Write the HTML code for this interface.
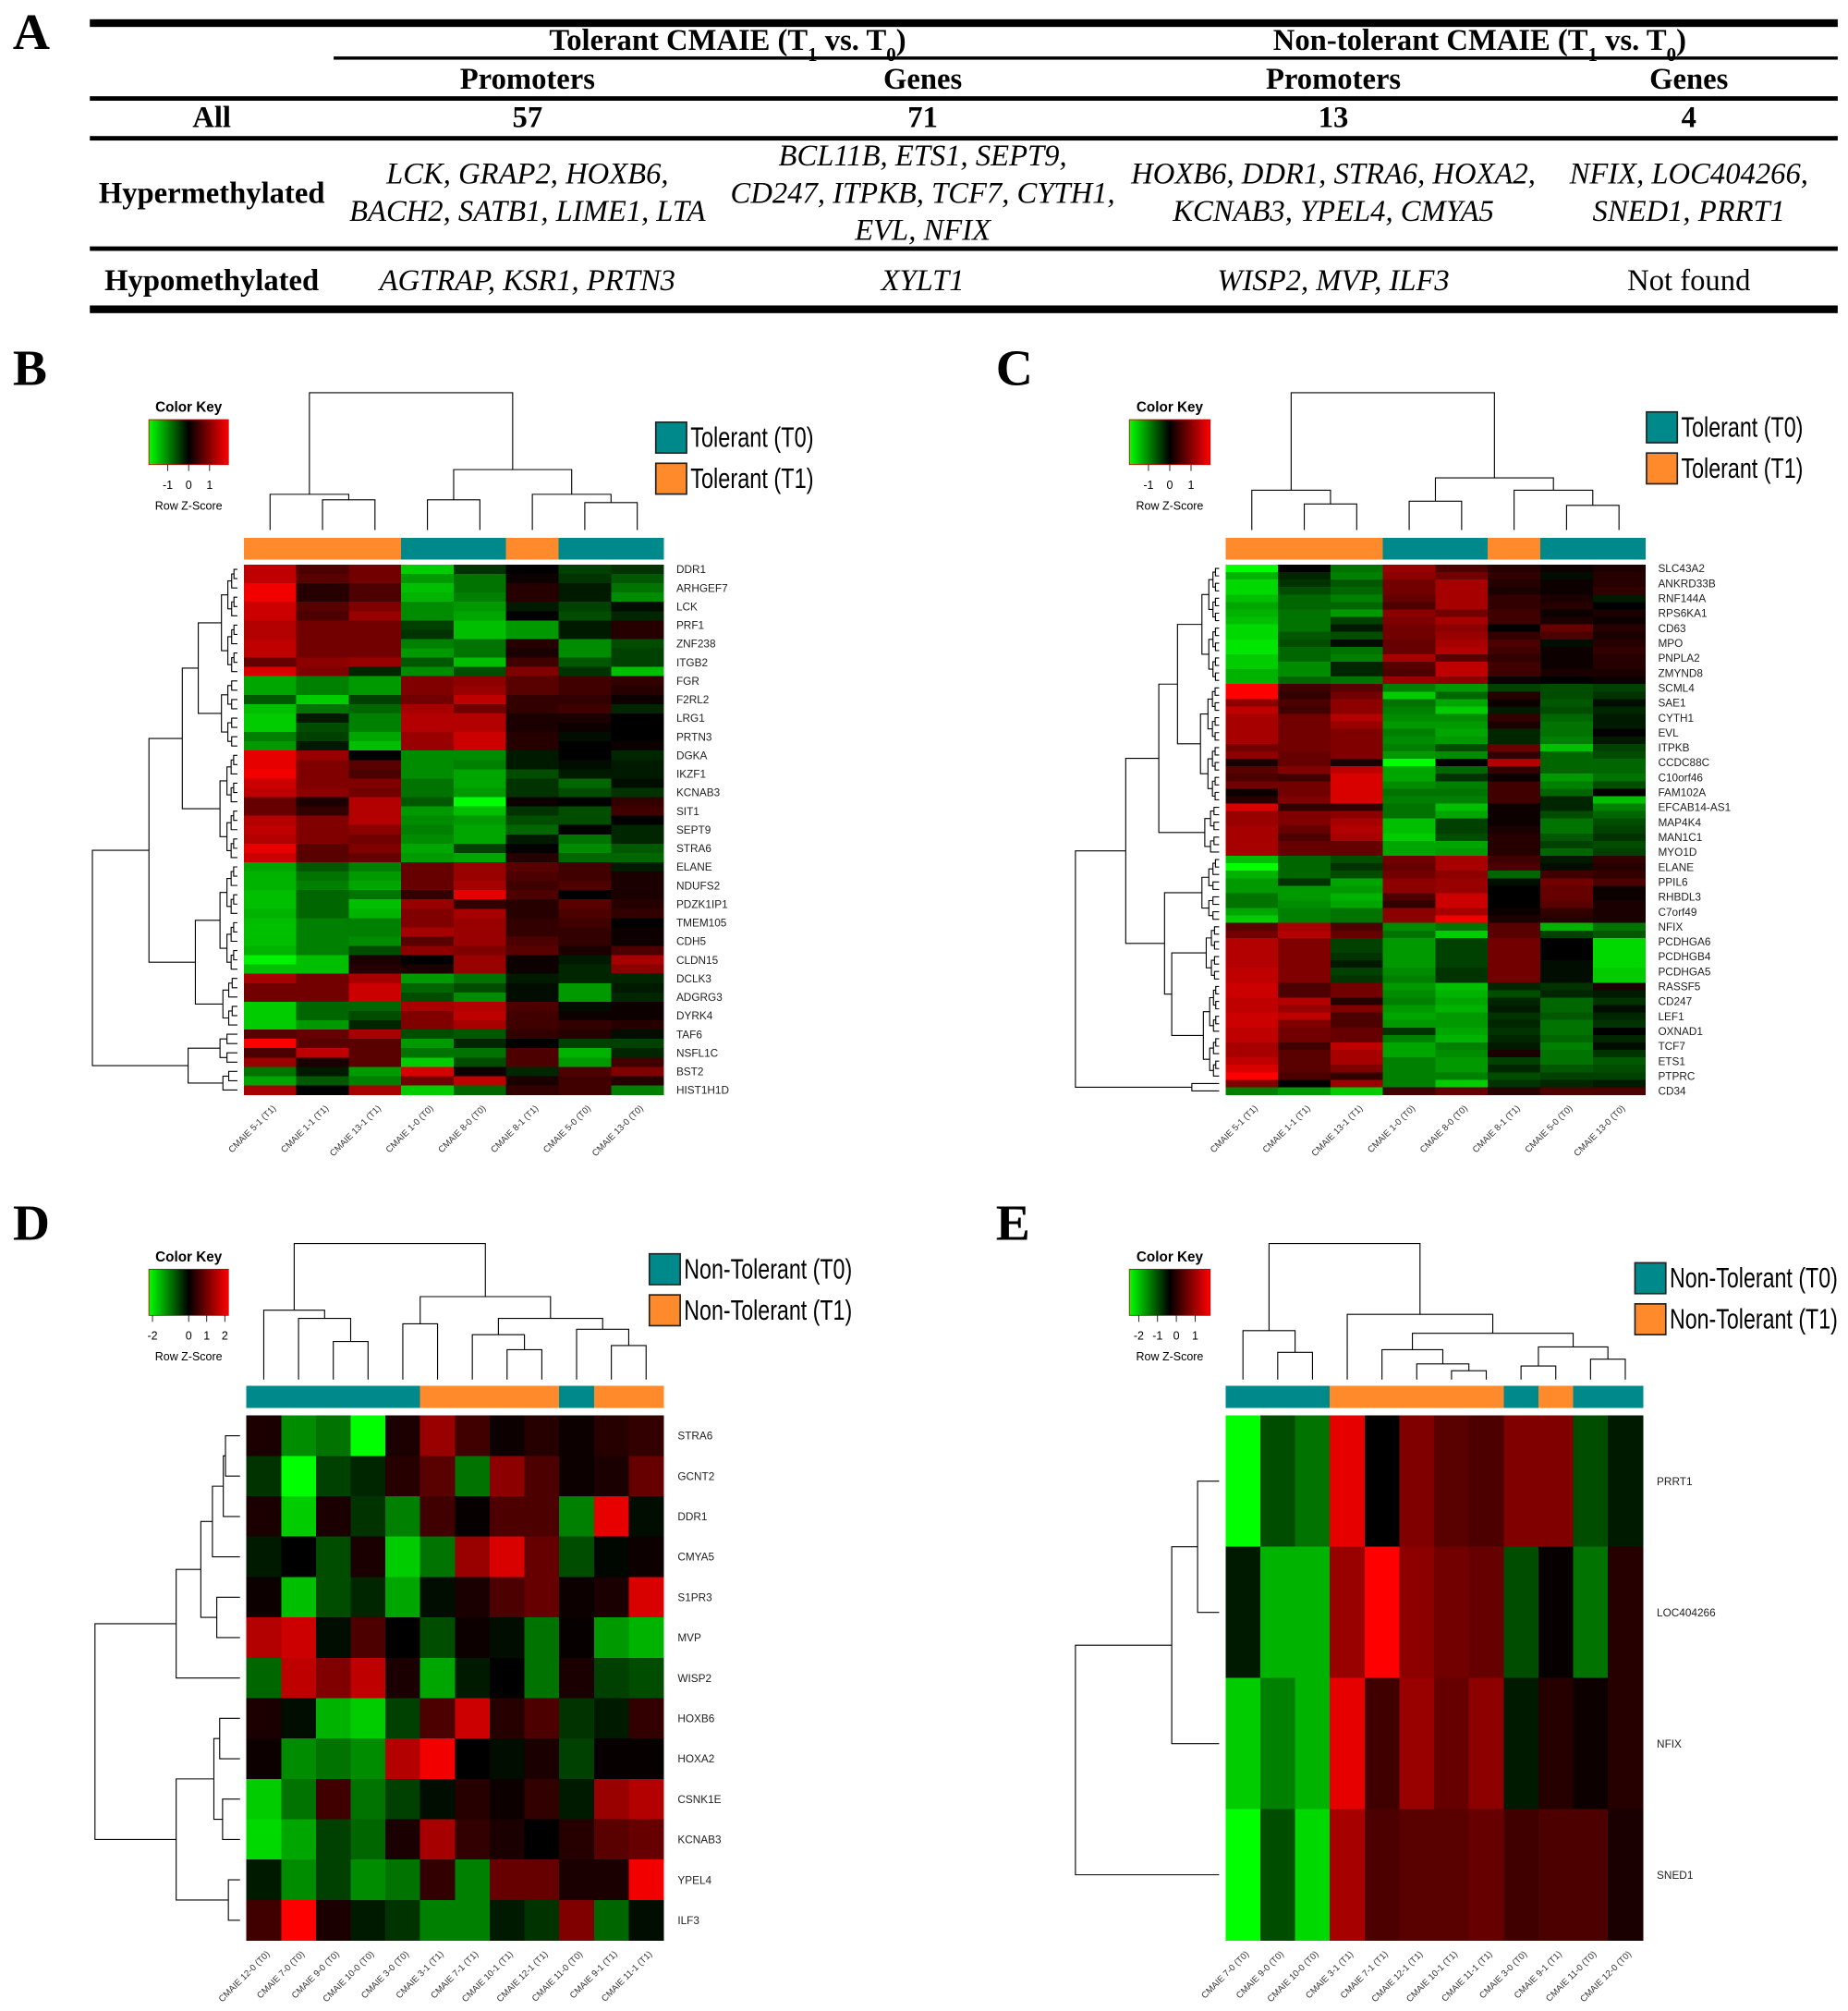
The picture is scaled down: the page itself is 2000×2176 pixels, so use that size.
<!DOCTYPE html>
<html><head><meta charset="utf-8"><style>
html,body{margin:0;padding:0;background:#fff;}
svg{display:block;}
.tb{font-family:"Liberation Serif",serif;font-size:23.5px;fill:#000;}
.b{font-weight:bold;}
.i{font-style:italic;}
.sans{font-family:"Liberation Sans",sans-serif;}
</style></head><body>
<svg id="fig" xmlns="http://www.w3.org/2000/svg" width="2000" height="2176" viewBox="0 0 1440 1567" preserveAspectRatio="none">
<rect x="0" y="0" width="1440" height="1567" fill="#fff"/>
<g>
<text x="10" y="38" class="tb b" style="font-size:40px">A</text>
<rect x="70" y="15" width="1362" height="6" fill="#000"/>
<text x="567" y="39" text-anchor="middle" class="tb b">Tolerant CMAIE (T<tspan baseline-shift="sub" font-size="15">1</tspan> vs. T<tspan baseline-shift="sub" font-size="15">0</tspan>)</text>
<text x="1153" y="39" text-anchor="middle" class="tb b">Non-tolerant CMAIE (T<tspan baseline-shift="sub" font-size="15">1</tspan> vs. T<tspan baseline-shift="sub" font-size="15">0</tspan>)</text>
<rect x="260" y="44" width="1172" height="2.5" fill="#000"/>
<text x="411" y="69" text-anchor="middle" class="tb b">Promoters</text>
<text x="719" y="69" text-anchor="middle" class="tb b">Genes</text>
<text x="1039" y="69" text-anchor="middle" class="tb b">Promoters</text>
<text x="1316" y="69" text-anchor="middle" class="tb b">Genes</text>
<rect x="70" y="75" width="1362" height="3.5" fill="#000"/>
<text x="165" y="99" text-anchor="middle" class="tb b">All</text>
<text x="411" y="99" text-anchor="middle" class="tb b">57</text>
<text x="719" y="99" text-anchor="middle" class="tb b">71</text>
<text x="1039" y="99" text-anchor="middle" class="tb b">13</text>
<text x="1316" y="99" text-anchor="middle" class="tb b">4</text>
<rect x="70" y="106" width="1362" height="3.5" fill="#000"/>
<text x="165" y="158" text-anchor="middle" class="tb b">Hypermethylated</text>
<text x="411" y="143" text-anchor="middle" class="tb i">LCK, GRAP2, HOXB6,</text>
<text x="411" y="172" text-anchor="middle" class="tb i">BACH2, SATB1, LIME1, LTA</text>
<text x="719" y="129" text-anchor="middle" class="tb i">BCL11B, ETS1, SEPT9,</text>
<text x="719" y="158" text-anchor="middle" class="tb i">CD247, ITPKB, TCF7, CYTH1,</text>
<text x="719" y="187" text-anchor="middle" class="tb i">EVL, NFIX</text>
<text x="1039" y="143" text-anchor="middle" class="tb i">HOXB6, DDR1, STRA6, HOXA2,</text>
<text x="1039" y="172" text-anchor="middle" class="tb i">KCNAB3, YPEL4, CMYA5</text>
<text x="1316" y="143" text-anchor="middle" class="tb i">NFIX, LOC404266,</text>
<text x="1316" y="172" text-anchor="middle" class="tb i">SNED1, PRRT1</text>
<rect x="70" y="192" width="1362" height="3.5" fill="#000"/>
<text x="165" y="226" text-anchor="middle" class="tb b">Hypomethylated</text>
<text x="411" y="226" text-anchor="middle" class="tb i">AGTRAP, KSR1, PRTN3</text>
<text x="719" y="226" text-anchor="middle" class="tb i">XYLT1</text>
<text x="1039" y="226" text-anchor="middle" class="tb i">WISP2, MVP, ILF3</text>
<text x="1316" y="226" text-anchor="middle" class="tb">Not found</text>
<rect x="70" y="238" width="1362" height="6" fill="#000"/>
</g>
<g id="panels"></g>
</svg>
<script>
// ---------- data ----------
const bCols = ["CMAIE 5-1 (T1)","CMAIE 1-1 (T1)","CMAIE 13-1 (T1)","CMAIE 1-0 (T0)","CMAIE 8-0 (T0)","CMAIE 8-1 (T1)","CMAIE 5-0 (T0)","CMAIE 13-0 (T0)"];
const bGroups = [1,1,1,0,0,1,0,0];
const bRowLabels = ["DDR1","ARHGEF7","LCK","PRF1","ZNF238","ITGB2","FGR","F2RL2","LRG1","PRTN3","DGKA","IKZF1","KCNAB3","SIT1","SEPT9","STRA6","ELANE","NDUFS2","PDZK1IP1","TMEM105","CDH5","CLDN15","DCLK3","ADGRG3","DYRK4","TAF6","NSFL1C","BST2","HIST1H1D"];
const bValues = [
[1.5,0.6,0.9,-1.6,-0.4,0,-0.5,-0.4],[1.5,0.7,0.9,-1.2,-0.9,0.1,-0.4,-0.7],
[1.9,0.3,0.6,-1.5,-0.9,0.3,-0.2,-0.9],[1.9,0.3,0.6,-1.4,-1.0,0.3,-0.2,-1.1],
[1.6,0.7,1.0,-1.1,-1.2,-0.2,-0.5,-0.1],[1.6,0.6,1.2,-1.1,-1.3,0,-0.6,-0.3],
[1.4,0.9,0.9,-0.5,-1.5,-1.2,-0.2,0.3],[1.4,0.9,0.9,-0.4,-1.5,-1.2,-0.2,0.3],
[1.5,0.9,0.9,-1.0,-0.9,0.3,-1.1,-0.6],[1.5,0.9,0.9,-1.2,-0.9,0.2,-1.1,-0.5],
[0.8,1.1,1.2,-0.7,-1.5,0.5,-0.7,-0.5],[1.7,1.0,-0.3,-1.1,-0.6,1.0,-0.4,-1.5],
[-1.3,-1.0,-1.2,1.0,1.1,0.7,0.5,0.4],[-1.3,-1.0,-1.2,1.0,1.2,0.7,0.5,0.3],
[-0.7,-1.6,-0.5,0.9,1.5,0.4,0.4,0.1],[-1.5,-0.9,-0.8,1.3,0.9,0.4,0.5,-0.3],
[-1.6,-0.2,-1.0,1.4,1.4,0.2,0.2,0],[-1.6,-0.6,-1.0,1.4,1.4,0.2,0.1,0],
[-1.0,-0.5,-1.3,1.2,1.6,0.3,-0.1,0],[-1.2,-0.2,-1.5,1.2,1.6,0.3,0,0.1],
[1.8,1.2,0,-1.1,-1.1,-0.2,0,-0.3],[1.8,1.0,0.7,-1.1,-1.0,-0.2,-0.1,-0.2],
[1.9,1.0,0.6,-1.1,-1.3,-0.6,-0.2,-0.2],[1.6,1.0,1.0,-0.9,-1.3,-0.4,-0.8,-0.1],
[1.5,1.1,0.9,-0.9,-1.2,-0.4,-0.6,-0.4],[0.8,0.2,1.4,-0.7,-2.0,0.1,0,0.4],
[0.8,0.4,1.4,-1.2,-1.5,-0.4,-0.6,0.5],[1.4,1.0,1.4,-1.1,-1.2,-0.6,-0.6,0],
[1.5,1.0,1.1,-1.0,-1.3,-0.8,0,-0.3],[1.4,1.0,0.9,-1.1,-1.3,-0.2,-0.9,-0.3],
[1.8,0.7,1.0,-1.3,-0.5,0,-1.1,-0.7],[1.6,0.7,0.8,-1.2,-1.3,0.3,-0.8,-0.8],
[-1.3,-0.7,-1.0,0.8,1.2,0.7,0.5,-0.2],[-1.4,-0.9,-1.2,0.8,1.2,0.6,0.5,0.2],
[-1.4,-1.0,-1.3,0.8,1.3,0.5,0.6,0.2],[-1.5,-0.8,-0.9,0.4,1.8,0.6,0,0.2],
[-1.5,-0.8,-1.5,1.2,0.4,0.3,0.7,0.3],[-1.4,-0.8,-1.4,1.0,1.3,0.3,0.6,0.4],
[-1.5,-1.0,-1.0,1.0,1.2,0.4,0.5,0],[-1.5,-1.0,-1.0,1.3,1.2,0.4,0.4,0.1],
[-1.5,-1.0,-1.1,0.7,1.2,0.6,0.4,0.1],[-1.4,-1.0,-0.6,1.1,1.0,0.7,0.2,0.6],
[-1.9,-1.5,0.2,0,1.2,0.1,-0.2,1.3],[-1.5,-1.5,0.3,0.2,1.2,0.1,-0.3,1.1],
[1.3,0.9,1.3,-1.2,-0.9,-0.2,-0.3,-0.3],[0.9,0.9,1.6,-0.8,-0.6,-0.1,-1.2,-0.2],
[0.9,0.9,1.6,-0.6,-1.1,-0.1,-1.2,-0.3],[-1.6,-0.8,-0.8,1.3,1.4,0.6,-0.1,0.1],
[-1.6,-0.8,-0.6,1.0,1.5,0.5,0.1,0.1],[-1.6,-1.2,-0.3,1.0,1.3,0.5,0.4,0.3],
[0.7,0.8,1.3,-0.6,-0.7,0.4,0.3,-0.1],[2.0,0.7,0.7,-1.2,-0.3,0,-0.5,-0.5],
[0.6,1.5,0.7,-0.9,-0.9,0.6,-1.4,-0.3],[1.2,0.2,0.7,-1.6,-0.6,0.6,-1.2,0.5],
[-0.9,-0.2,-1.2,1.7,0.1,-0.3,0.6,1.0],[-1.3,-0.7,-1.0,0.9,1.5,0.2,0.5,0.3],
[1.3,0,1.3,-1.6,-0.8,0.4,0.5,-1.0]
];
const cRowLabels = ["SLC43A2","ANKRD33B","RNF144A","RPS6KA1","CD63","MPO","PNPLA2","ZMYND8","SCML4","SAE1","CYTH1","EVL","ITPKB","CCDC88C","C10orf46","FAM102A","EFCAB14-AS1","MAP4K4","MAN1C1","MYO1D","ELANE","PPIL6","RHBDL3","C7orf49","NFIX","PCDHGA6","PCDHGB4","PCDHGA5","RASSF5","CD247","LEF1","OXNAD1","TCF7","ETS1","PTPRC","CD34"];
const cValues = [
[-2.0,0,-0.9,1.2,0.6,0.3,0.1,0.2],[-1.4,-0.3,-1.0,1.1,0.9,0.4,-0.1,0.3],
[-1.7,-0.4,-0.7,0.9,1.3,0.3,0.1,0.3],[-1.7,-0.6,-0.8,0.9,1.3,0.2,0.1,0.4],
[-1.5,-0.8,-1.0,0.8,1.3,0.4,0.2,-0.2],[-1.3,-0.8,-0.8,0.6,1.3,0.4,0.3,0],
[-1.4,-0.9,-1.2,1.1,0.9,0.5,0.1,0.2],[-1.5,-0.9,-0.5,1.0,1.3,0.5,0.2,0.1],
[-1.7,-0.9,-0.2,0.9,1.1,0,0.8,0.3],[-1.7,-0.7,-0.6,0.9,1.2,0.4,0.6,0.2],
[-1.8,-0.6,-0.1,0.8,1.3,0.6,-0.1,0.3],[-1.8,-0.8,-0.9,0.8,1.4,0.5,0.1,0.4],
[-1.6,-0.8,-1.0,1.3,0.7,0.4,0.1,0.3],[-1.6,-1.1,-0.3,0.7,1.5,0.5,0.1,0.3],
[-1.4,-1.1,-0.3,0.6,1.5,0.5,0.2,0.2],[-1.4,-0.8,-0.9,1.2,1.1,0.1,0,0.1],
[2.0,0.5,0.7,-1.0,-1.2,-0.5,-0.6,-0.5],[2.0,0.4,0.9,-1.6,-0.8,0.3,-0.6,-0.4],
[1.1,0.6,1.1,-0.9,-1.3,0.1,-0.7,-0.1],[1.5,0.5,1.1,-1.0,-1.6,-0.2,-0.6,-0.3],
[1.3,0.9,1.4,-1.1,-1.1,0.4,-0.8,-0.2],[1.3,0.9,1.2,-1.2,-1.2,0.2,-0.9,-0.2],
[1.3,0.9,1.0,-1.0,-1.3,-0.3,-0.9,0],[1.3,0.9,1.0,-1.1,-1.2,-0.3,-1.0,-0.2],
[0.9,0.9,1.0,-1.0,-0.6,0.8,-1.5,-0.5],[1.1,0.8,1.0,-1.2,-1.1,0.4,-0.8,-0.6],
[0.2,0.8,0.2,-2.0,0,1.4,-0.8,-0.8],[0.7,1.0,1.5,-1.3,-0.8,0.4,-0.8,-0.8],
[0.6,0.5,1.7,-1.3,-0.4,0.1,-1.2,-0.9],[0.9,0.9,1.7,-1.1,-1.0,0.5,-1.0,-0.6],
[0.1,0.9,1.7,-0.9,-0.9,0.5,-0.8,0],[0.3,1.0,1.7,-1.0,-1.0,0.5,-0.3,-1.5],
[1.7,0.4,0.4,-0.9,-1.5,0.1,-0.3,-1.0],[1.2,1.0,1.1,-0.9,-1.3,0.1,-0.6,-0.8],
[1.2,1.0,1.3,-1.5,-0.5,0.1,-0.9,-0.6],[1.3,0.8,1.4,-1.5,-0.5,0.2,-0.9,-0.5],
[1.3,0.6,1.3,-1.6,-0.6,0.3,-0.7,-0.4],[1.3,0.8,0.8,-1.3,-1.3,0.3,-0.5,-0.6],
[1.3,0.8,0.8,-1.3,-1.2,0.3,-0.8,-0.5],[-1.5,-0.8,-0.6,0.9,1.3,0.5,-0.2,0.4],
[-2.0,-0.8,-0.4,0.8,1.3,0.6,-0.1,0.3],[-1.4,-0.8,-0.6,0.9,1.1,-0.8,0.5,0.4],
[-1.2,-0.4,-1.3,1.1,1.2,-0.1,0.9,0.6],[-1.2,-1.2,-1.2,1.1,1.2,0,0.8,0.1],
[-0.9,-1.2,-1.4,0.6,1.6,0,0.8,0.1],[-0.9,-1.1,-1.3,0.4,1.6,0,0.7,0.2],
[-1.3,-1.0,-0.9,1.1,1.3,0.1,0.4,0.2],[-1.6,-1.0,-0.9,1.1,1.9,0.2,0.3,0.2],
[0.7,1.3,0.6,-1.1,-0.9,0.7,-1.4,-0.9],[0.9,1.4,0.8,-0.9,-1.6,0.7,-0.5,-0.7],
[1.4,1.0,-0.5,-1.2,-0.5,0.9,0,-1.7],[1.4,1.0,-0.5,-1.2,-0.5,0.9,0,-1.7],
[1.4,1.0,-0.4,-1.2,-0.5,0.9,0,-1.7],[1.4,1.0,-0.2,-1.2,-0.5,0.9,-0.1,-1.7],
[1.5,1.0,-0.5,-1.1,-0.4,0.9,-0.1,-1.6],[1.5,1.0,-0.4,-1.0,-0.4,0.9,-0.1,-1.6],
[1.6,0.6,0.9,-1.2,-1.5,-0.3,-0.4,0.2],[1.6,0.6,0.9,-1.1,-1.4,-0.6,-0.3,-0.2],
[1.5,1.4,0.3,-1.0,-1.3,-0.3,-0.8,-0.4],[1.5,1.2,1.0,-1.2,-1.4,-0.2,-0.8,-0.1],
[1.6,1.5,0.6,-1.3,-1.2,-0.4,-0.7,-0.3],[1.6,1.0,0.6,-1.2,-1.2,-0.3,-0.9,-0.4],
[1.5,0.9,0.8,-0.4,-1.3,-0.4,-0.9,0],[1.5,0.9,0.8,-1.0,-1.4,-0.3,-0.8,-0.3],
[1.3,0.5,1.5,-1.3,-1.0,-0.2,-1.0,-0.1],[1.3,0.7,1.3,-1.3,-1.1,0.2,-0.9,-0.4],
[1.5,0.7,1.3,-1.0,-1.2,-0.5,-0.9,-0.7],[1.7,0.7,1.0,-1.0,-1.2,-0.3,-0.7,-0.6],
[2.0,0.6,0.4,-1.0,-1.0,-0.6,-0.5,-0.5],[1.0,0,1.2,-1.0,-1.6,-0.4,-0.3,-0.2],
[-1.0,-1.2,-1.6,0.5,0.8,0.3,0.6,0.6]
];
const dCols = ["CMAIE 12-0 (T0)","CMAIE 7-0 (T0)","CMAIE 9-0 (T0)","CMAIE 10-0 (T0)","CMAIE 3-0 (T0)","CMAIE 3-1 (T1)","CMAIE 7-1 (T1)","CMAIE 10-1 (T1)","CMAIE 12-1 (T1)","CMAIE 11-0 (T0)","CMAIE 9-1 (T1)","CMAIE 11-1 (T1)"];
const dGroups = [0,0,0,0,0,1,1,1,1,0,1,1];
const dRowLabels = ["STRA6","GCNT2","DDR1","CMYA5","S1PR3","MVP","WISP2","HOXB6","HOXA2","CSNK1E","KCNAB3","YPEL4","ILF3"];
const dValues = [
[0.2,-1.1,-0.9,-2.0,0.2,1.2,0.5,0.1,0.3,0.1,0.3,0.4],
[-0.4,-2.0,-0.5,-0.3,0.3,0.7,-0.9,1.1,0.6,0.1,0.2,0.8],
[0.2,-1.6,0.2,-0.4,-1.0,0.5,0.05,0.6,0.6,-1.0,1.8,-0.1],
[-0.2,0,-0.6,0.2,-1.6,-0.9,1.2,1.7,0.8,-0.6,-0.05,0.1],
[0.1,-1.5,-0.6,-0.3,-1.3,-0.1,0.2,0.6,0.8,0.1,0.2,1.7],
[1.4,1.6,-0.1,0.6,0,-0.6,0.1,-0.1,-0.9,0.05,-1.2,-1.4],
[-0.8,1.5,1.0,1.5,0.2,-1.3,-0.2,0,-0.9,0.2,-0.5,-0.6],
[0.2,-0.1,-1.4,-1.6,-0.5,0.6,1.6,0.3,0.6,-0.4,-0.2,0.4],
[0.1,-1.1,-0.9,-1.1,1.4,1.9,0,-0.1,0.2,-0.5,0.05,0.05],
[-1.6,-0.9,0.5,-0.9,-0.5,-0.1,0.3,0.1,0.4,-0.2,1.2,1.4],
[-1.7,-1.3,-0.5,-0.8,0.2,1.3,0.4,0.2,0,0.3,0.7,0.8],
[-0.2,-1.1,-0.5,-1.1,-0.9,0.4,-1.0,0.8,0.8,0.2,0.2,1.9],
[0.5,2.0,0.2,-0.2,-0.4,-1.0,-1.0,-0.2,-0.4,1.0,-0.8,-0.1]
];
const eCols = ["CMAIE 7-0 (T0)","CMAIE 9-0 (T0)","CMAIE 10-0 (T0)","CMAIE 3-1 (T1)","CMAIE 7-1 (T1)","CMAIE 12-1 (T1)","CMAIE 10-1 (T1)","CMAIE 11-1 (T1)","CMAIE 3-0 (T0)","CMAIE 9-1 (T1)","CMAIE 11-0 (T0)","CMAIE 12-0 (T0)"];
const eGroups = [0,0,0,1,1,1,1,1,0,1,0,0];
const eRowLabels = ["PRRT1","LOC404266","NFIX","SNED1"];
const eValues = [
[-2.0,-0.6,-0.9,1.8,0,1.0,0.7,0.6,1.0,1.0,-0.6,-0.2],
[-0.2,-1.4,-1.4,1.2,2.0,1.1,0.9,0.8,-0.6,0.05,-0.9,0.3],
[-1.6,-1.0,-1.4,1.8,0.5,1.2,0.8,1.1,-0.2,0.3,0.1,0.3],
[-2.0,-0.6,-1.7,1.3,0.6,0.7,0.7,0.8,0.5,0.6,0.6,0.2]
];
// column dendrogram trees: [left, right, relative height]
const bColTree = [[0,[1,2,0.22],0.26],[[3,4,0.22],[5,[6,7,0.2],0.26],0.44],1.0];
const cColTree = [[0,[1,2,0.19],0.29],[[3,4,0.21],[5,[6,7,0.18],0.29],0.38],1.0];
const dColTree = [[0,[1,[2,3,0.28],0.45],0.51],[[4,5,0.41],[[6,[7,8,0.22],0.33],[9,[10,11,0.25],0.37],0.45],0.61],1.0];
const eColTree = [[0,[1,2,0.20],0.36],[3,[[4,[5,[6,7,0.065],0.115],0.22],[[8,9,0.10],[10,11,0.15],0.24],0.34],0.48],1.0];
const dRowTree = [[[[[[0,1,0.10],2,0.115],3,0.19],[4,5,0.16],0.27],6,0.44],[[[7,8,0.14],[9,10,0.12],0.18],[11,12,0.08],0.44],1.0];
const eRowTree = [[[0,1,0.15],2,0.33],3,1.0];

// ---------- helpers ----------
const NS = "http://www.w3.org/2000/svg";
const root = document.getElementById('panels');
function mk(tag, attrs, parent){
  const e = document.createElementNS(NS, tag);
  for (const k in attrs) e.setAttribute(k, attrs[k]);
  (parent||root).appendChild(e);
  return e;
}
function bal(a,b,h){
  if (a===b) return a;
  const m = Math.floor((a+b)/2);
  return [bal(a,m,h*0.6), bal(m+1,b,h*0.6), h];
}
const bRowTree = [[[[bal(0,11,0.11),bal(12,19,0.11),0.27],bal(20,31,0.12),0.38],[bal(32,43,0.12),bal(44,49,0.1),0.29],0.61],[bal(50,53,0.12),bal(54,56,0.1),0.34],1.0];
const cRowTree = [[[[bal(0,15,0.12),bal(16,31,0.13),0.29],bal(32,38,0.1),0.42],[bal(39,47,0.12),[bal(48,55,0.09),bal(56,68,0.11),0.33],0.38],0.65],[69,70,0.19],1.0];

function color(v){
  const t = Math.min(1, Math.abs(v)/2);
  const c = Math.round(255*t);
  return v>=0 ? `rgb(${c},0,0)` : `rgb(0,${c},0)`;
}
function dendro(tree, leafPos, base, span, orient, g){
  let d = "";
  function walk(n){
    if (typeof n === 'number') return {p: leafPos(n), h: 0};
    const L = walk(n[0]), R = walk(n[1]), h = n[2];
    const hv = base - h*span, lh = base - L.h*span, rh = base - R.h*span;
    if (orient==='col'){
      d += `M${L.p},${lh}V${hv}H${R.p}V${rh}`;
    } else {
      d += `M${lh},${L.p}H${hv}V${R.p}H${rh}`;
    }
    return {p:(L.p+R.p)/2, h};
  }
  walk(tree);
  const path = mk('path', {d, fill:'none', stroke:'#000', 'stroke-width':0.8}, g);
  
  
}

function panel(cfg){
  const g = mk('g', {});
  
  
  const pl = mk('text', {x:cfg.letterX, y:cfg.letterY, 'font-family':'Liberation Serif, serif', 'font-weight':'bold', 'font-size':40}, g);
  pl.textContent = cfg.id.toUpperCase();
  
  
  const nR = cfg.values.length, nC = cfg.cols.length;
  const cw = (cfg.x1-cfg.x0)/nC, rh = (cfg.y1-cfg.y0)/nR;
  const xc = i => cfg.x0 + (i+0.5)*cw;
  const yc = j => cfg.y0 + (j+0.5)*rh;
  const hm = mk('g', {'shape-rendering':'crispEdges'}, g);
  
  
  cfg.values.forEach((row, j) => row.forEach((v, i) => {
    const r = mk('rect', {x:cfg.x0+i*cw, y:cfg.y0+j*rh, width:cw+0.4, height:rh+0.4, fill:color(v)}, hm);
    
    
  }));
  cfg.groups.forEach((gr, i) => {
    const r = mk('rect', {x:cfg.x0+i*cw, y:cfg.barY0, width:cw+0.4, height:cfg.barY1-cfg.barY0, fill: gr ? '#FE8A2B' : '#00898A', 'shape-rendering':'crispEdges'}, g);
    
    
  });
  dendro(cfg.colTree, xc, cfg.dBottom, cfg.dBottom - cfg.dTop, 'col', g);
  dendro(cfg.rowTree, yc, cfg.rBase, cfg.rBase - cfg.rRoot, 'row', g);
  cfg.rowLabels.forEach((lab, k) => {
    const j = cfg.labelStep*k;
    const t = mk('text', {x:cfg.x1+cfg.labelDx, y:yc(j)+3, 'font-family':'Liberation Sans, sans-serif', 'font-size':cfg.labelSize, fill:'#222'}, g);
    t.textContent = lab;
    
    
  });
  cfg.cols.forEach((lab, i) => {
    const x = xc(i)+5, y = cfg.y1+11;
    const t = mk('text', {x, y, 'text-anchor':'end', transform:`rotate(-45 ${x} ${y})`, 'font-family':'Liberation Sans, sans-serif', 'font-size':7, fill:'#333'}, g);
    t.textContent = lab;
    
    
  });
  const k = cfg.key;
  const gid = 'grad-' + cfg.id;
  const defs = mk('defs', {}, g);
  const lg = mk('linearGradient', {id:gid, x1:0, x2:1, y1:0, y2:0}, defs);
  mk('stop', {offset:'0', 'stop-color':'#00ff00'}, lg);
  mk('stop', {offset:'0.5', 'stop-color':'#000'}, lg);
  mk('stop', {offset:'1', 'stop-color':'#ff0000'}, lg);
  const kt = mk('text', {x:(k.x0+k.x1)/2, y:k.y0-6, 'text-anchor':'middle', 'font-family':'Liberation Sans, sans-serif', 'font-weight':'bold', 'font-size':11}, g);
  kt.textContent = 'Color Key';
  
  
  const kr = mk('rect', {x:k.x0, y:k.y0, width:k.x1-k.x0, height:k.y1-k.y0, fill:`url(#${gid})`, stroke:'#c00', 'stroke-width':0.6}, g);
  
  
  k.ticks.forEach((tv, i) => {
    const x = k.x0 + (tv - k.min)/(k.max - k.min)*(k.x1-k.x0);
    mk('line', {x1:x, x2:x, y1:k.y1, y2:k.y1+5, stroke:'#000', 'stroke-width':0.6}, g);
    const t = mk('text', {x, y:k.y1+19, 'text-anchor':'middle', 'font-family':'Liberation Sans, sans-serif', 'font-size':9}, g);
    t.textContent = tv;
    
    
  });
  const zt = mk('text', {x:(k.x0+k.x1)/2, y:k.y1+35, 'text-anchor':'middle', 'font-family':'Liberation Sans, sans-serif', 'font-size':9}, g);
  zt.textContent = 'Row Z-Score';
  
  
  const L = cfg.legend;
  [['#00898A', L.t0, L.y0], ['#FE8A2B', L.t1, L.y1]].forEach(([c, txt, y]) => {
    const r = mk('rect', {x:L.x, y, width:L.w, height:L.w, fill:c, stroke:'#222', 'stroke-width':1.2}, g);
    
    
    const t = mk('text', {x:L.x+L.w+3, y:y+L.w*0.8, 'font-family':'Liberation Sans, sans-serif', 'font-size':22, textLength:L.tl, lengthAdjust:'spacingAndGlyphs'}, g);
    t.textContent = txt;
    
    
  });
}

panel({id:'b', letterX:10, letterY:300, values:bValues, cols:bCols, groups:bGroups, rowLabels:bRowLabels, labelStep:2, labelSize:8.5, labelDx:10,
  x0:190, x1:517, y0:440, y1:853, barY0:419, barY1:436, dTop:306, dBottom:413, rBase:185, rRoot:72,
  colTree:bColTree, rowTree:bRowTree,
  key:{x0:116, x1:178, y0:327, y1:362, min:-1.9, max:1.9, ticks:[-1,0,1]},
  legend:{x:511, w:24, y0:329, y1:361, t0:'Tolerant (T0)', t1:'Tolerant (T1)', tl:96}});
panel({id:'c', letterX:776, letterY:300, values:cValues, cols:bCols, groups:bGroups, rowLabels:cRowLabels, labelStep:2, labelSize:8.5, labelDx:10,
  x0:955, x1:1282, y0:440, y1:853, barY0:419, barY1:436, dTop:306, dBottom:413, rBase:950, rRoot:838,
  colTree:cColTree, rowTree:cRowTree,
  key:{x0:880, x1:943, y0:327, y1:362, min:-1.9, max:1.9, ticks:[-1,0,1]},
  legend:{x:1283, w:24, y0:321, y1:353, t0:'Tolerant (T0)', t1:'Tolerant (T1)', tl:95}});
panel({id:'d', letterX:10, letterY:966, values:dValues, cols:dCols, groups:dGroups, rowLabels:dRowLabels, labelStep:1, labelSize:8.5, labelDx:11,
  x0:192, x1:517, y0:1103, y1:1512, barY0:1080, barY1:1097, dTop:969, dBottom:1075, rBase:187, rRoot:74,
  colTree:dColTree, rowTree:dRowTree,
  key:{x0:116, x1:178, y0:989, y1:1025, min:-2.2, max:2.2, ticks:[-2,0,1,2]},
  legend:{x:506, w:24, y0:977, y1:1009, t0:'Non-Tolerant (T0)', t1:'Non-Tolerant (T1)', tl:131}});
panel({id:'e', letterX:776, letterY:966, values:eValues, cols:eCols, groups:eGroups, rowLabels:eRowLabels, labelStep:1, labelSize:8.5, labelDx:11,
  x0:955, x1:1280, y0:1103, y1:1512, barY0:1080, barY1:1097, dTop:969, dBottom:1075, rBase:950, rRoot:838,
  colTree:eColTree, rowTree:eRowTree,
  key:{x0:880, x1:943, y0:989, y1:1025, min:-2.5, max:1.8, ticks:[-2,-1,0,1]},
  legend:{x:1274, w:24, y0:984, y1:1016, t0:'Non-Tolerant (T0)', t1:'Non-Tolerant (T1)', tl:131}});
</script>
</body></html>
